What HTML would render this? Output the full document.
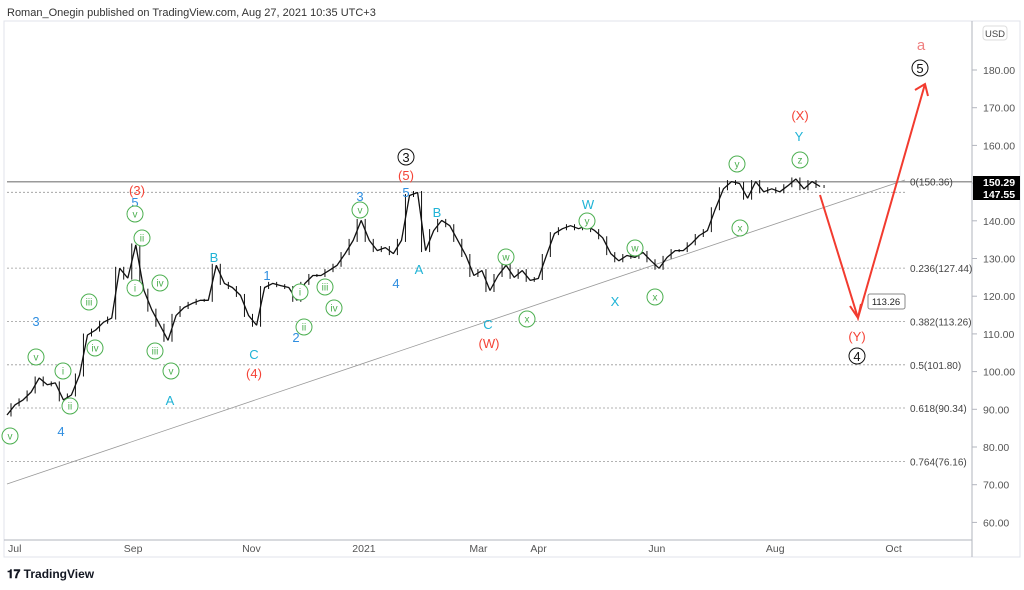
<!DOCTYPE html>
<html><head><meta charset="utf-8"><style>
body{margin:0;background:#fff;width:1024px;height:585px;overflow:hidden;font-family:"Liberation Sans",sans-serif}
svg text{font-family:"Liberation Sans",sans-serif}
</style></head><body>
<svg id="c" width="1024" height="585">
<text x="7" y="16" font-size="11" fill="#333">Roman_Onegin published on TradingView.com, Aug 27, 2021 10:35 UTC+3</text>
<rect x="4" y="21" width="1016" height="536" fill="none" stroke="#e0e3eb"/>
<line x1="972" y1="21" x2="972" y2="557" stroke="#b2b5be"/>
<line x1="4" y1="540" x2="972" y2="540" stroke="#b2b5be"/>
<g id="g"></g>
<text x="7" y="578" font-size="12" font-weight="bold" fill="#131722">𝟏𝟕 TradingView</text>
</svg>
<script>
const prices=[88.5,91.2,92.5,94.6,98.3,96.5,97,92.5,93.8,99.1,109.7,111,113.1,114.2,127.4,124.8,133.6,121.6,116.3,112.3,108.3,114.9,117,118.1,118.9,118.9,128.2,123.4,122.3,120.2,114.9,112.3,122.3,123.4,122.8,122.3,118.9,123.4,125.5,125.5,126.8,128.2,131.3,134.8,140.1,134.8,132.1,132.9,131.3,134.8,146.7,147.5,132.1,137.4,140.1,138.7,134.8,130.8,125.5,126.8,121.5,125.5,128.2,125,126.8,124.2,124.7,130.8,136.6,137.9,138.7,137.9,138.7,137.4,135.5,131.3,129.4,130.8,130.3,131.6,129.4,127.4,130.3,132.1,132.1,133.9,136.1,137.4,143.2,148.5,150.4,149.9,146,150.4,147.7,148.5,147.7,149.3,151.1,148.5,150.4,149.1];
const fibLevels=[150.36,147.55,127.44,113.26,101.80,90.34,76.16];
const fibLabels=["0(150.36)","","0.236(127.44)","0.382(113.26)","0.5(101.80)","0.618(90.34)","0.764(76.16)"];
const yTicks=[180,170,160,150,140,130,120,110,100,90,80,70,60];
const xTickLabels=["Jul","Sep","Nov","2021","Mar","Apr","Jun","Aug","Oct"];
const xTickDays=[4,65,126,184,243,274,335,396,457];
const Y=v=>70+(180-v)*3.77, X=d=>7+d*1.94;
const g=document.getElementById('g'),NS='http://www.w3.org/2000/svg';
function mk(t,a,txt){const e=document.createElementNS(NS,t);for(const k in a)e.setAttribute(k,a[k]);if(txt!=null)e.textContent=txt;g.appendChild(e);return e;}
yTicks.forEach(v=>{const y=Y(v);
const l=mk('line',{x1:972,y1:y,x2:977,y2:y,stroke:'#b2b5be'});


const t=mk('text',{x:983,y:y+4,'font-size':10.5,fill:'#555'},v.toFixed(2));

});
xTickLabels.forEach((s,i)=>{const t=mk('text',{x:X(xTickDays[i]),y:552,'font-size':10.5,fill:'#555','text-anchor':'middle'},s);

});
fibLevels.forEach((v,i)=>{const y=Y(v);
const l=mk('line',{x1:7,y1:y,x2:i==0?972:905,y2:y,stroke:i==0?'#9a9a9a':'#999','stroke-width':i==0?1.5:0.8,'stroke-dasharray':i==0?'':'2,2'});


if(fibLabels[i]){const t=mk('text',{x:910,y:y+4,'font-size':10,fill:'#444'},fibLabels[i]);

}});
const tl=mk('line',{x1:7,y1:484,x2:905,y2:180,stroke:'#999','stroke-width':0.8});


const step=8.05;
let d='';prices.forEach((p,i)=>{d+=(i?'L':'M')+(7+i*step).toFixed(1)+','+Y(p).toFixed(1);});
const pl=mk('path',{d:d,fill:'none',stroke:'#111','stroke-width':1.3,'stroke-linejoin':'bevel'});


prices.forEach((p,i)=>{const x=7+i*step+4,n=prices[i+1]??p;
const b=mk('line',{x1:x,y1:Y(Math.max(p,n))-1.5,x2:x,y2:Y(Math.min(p,n))+1.5,stroke:'#111','stroke-width':1});

});
const ar=mk('path',{d:'M820,195 L858,318 L925,84 M850,306 L858,318 L861,304 M915,90 L925,84 L928,96',fill:'none',stroke:'#f23b2f','stroke-width':2});


const lb=mk('rect',{x:868,y:294,width:37,height:15,fill:'#fff',stroke:'#888',rx:2});


const lt=mk('text',{x:886,y:305,'font-size':9.5,'text-anchor':'middle',fill:'#222'},'113.26');


const ub=mk('rect',{x:983,y:26,width:24,height:14,fill:'#fff',stroke:'#ddd',rx:3});


const ut=mk('text',{x:995,y:37,'font-size':9.5,'text-anchor':'middle',fill:'#444'},'USD');


[[150.29,176],[147.55,188]].forEach(([v,y])=>{const r=mk('rect',{x:973,y:y,width:47,height:12,fill:'#000'});


const t=mk('text',{x:983,y:y+10,'font-size':10.5,'font-weight':'bold',fill:'#fff'},v.toFixed(2));

});
const G='#4caf50',B='#2f8ee0',C='#1fb3d6',R='#f44336',K='#111';
const labels=[["(3)",137,190,R,0],["5",135,202,B,0],["v",135,214,G,1],["ii",142,238,G,1],["i",135,288,G,1],["iv",160,283,G,1],["iii",89,302,G,1],["iv",95,348,G,1],["v",36,357,G,1],["i",63,371,G,1],["ii",70,406,G,1],["iii",155,351,G,1],["v",171,371,G,1],["A",170,400,C,0],["3",36,321,B,0],["4",61,431,B,0],["v",10,436,G,1],
["B",214,257,C,0],["1",267,275,B,0],["i",300,292,G,1],["ii",304,327,G,1],["2",296,337,B,0],["C",254,354,C,0],["(4)",254,373,R,0],["iii",325,287,G,1],["iv",334,308,G,1],["v",360,210,G,1],["3",360,196,B,0],["4",396,283,B,0],["3",406,157,K,2],["(5)",406,175,R,0],["5",406,192,B,0],["A",419,269,C,0],["B",437,212,C,0],["w",506,257,G,1],["x",527,319,G,1],["C",488,324,C,0],["(W)",489,343,R,0],["W",588,204,C,0],["y",587,221,G,1],["w",635,248,G,1],["X",615,301,C,0],["x",655,297,G,1],["y",737,164,G,1],["x",740,228,G,1],["(X)",800,115,R,0],["Y",799,136,C,0],["z",800,160,G,1],["(Y)",857,336,R,0],["4",857,356,K,2],["5",920,68,K,2],["a",921,45,'#f08080',0]];
labels.forEach(([s,x,y,c,t])=>{
if(t){const ci=mk('circle',{cx:x,cy:y,r:8,fill:'#fff',stroke:c,'stroke-width':1});

}
const e=mk('text',{x:x,y:y+(t==1?3.5:5),'font-size':t==1?10:(s=='a'?15:13),'text-anchor':'middle',fill:c},s);

});
</script>
</body></html>
